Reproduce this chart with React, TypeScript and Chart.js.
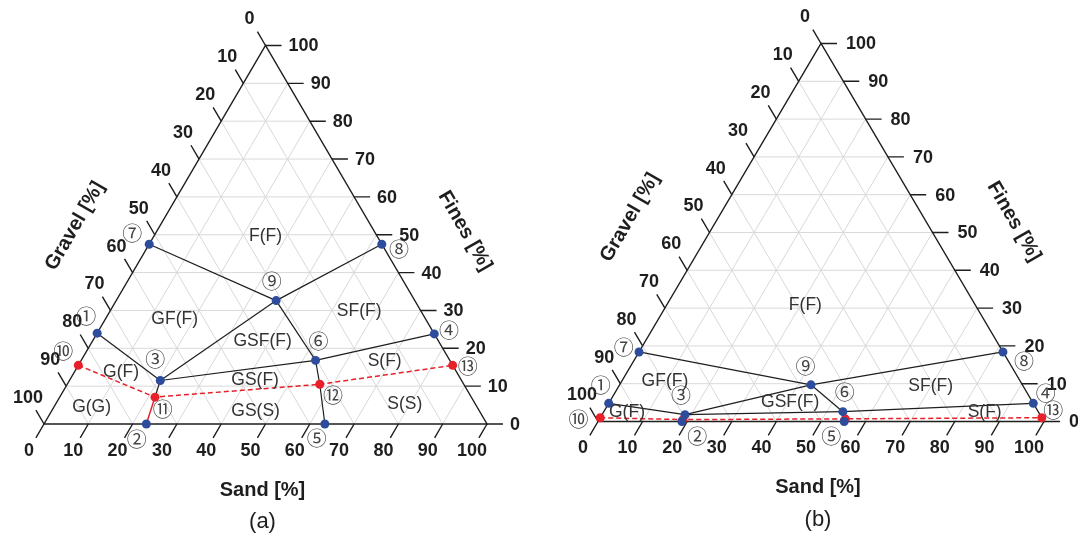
import React, { useEffect, useRef } from "react";
import { Chart, registerables } from "chart.js";
Chart.register(...registerables);

// ---- data (sand %, fines %; gravel = 100 - sand - fines) ----
const pointNames = ["①", "②", "③", "④", "⑤", "⑥", "⑦", "⑧", "⑨", "⑩", "⑪", "⑫", "⑬"];
const sandA = [0, 23.1, 20.5, 76.2, 63.4, 52.9, 0, 52.5, 36.1, 0, 21.5, 57.0, 84.5];
const finesA = [24, 0, 11.5, 23.8, 0, 16.8, 47.5, 47.5, 32.6, 15.5, 7.1, 10.5, 15.5];
const sandB = [0, 18.8, 18.6, 95.2, 55.2, 53.6, 0, 81.6, 42.9, 0, 18.8, 55.1, 99];
const finesB = [4.8, 0, 1.8, 4.8, 0, 2.6, 18.4, 18.4, 9.7, 1.0, 0.5, 0.7, 1.0];
const bluePoints = [1, 2, 3, 4, 5, 6, 7, 8, 9];
const redPoints = [10, 11, 12, 13];

// boundary links (point numbers)
const blackLinksA = [[7, 9], [8, 9], [9, 3], [1, 3], [3, 6], [6, 4], [9, 6], [6, 12], [12, 5], [3, 11]];
const redSolidLinksA = [[11, 2]];
const blackLinksB = [[7, 9], [9, 6], [3, 9], [9, 8], [1, 3], [3, 6], [6, 4], [3, 2], [6, 5]];
const redSolidLinksB: number[][] = [];
const redDashedPath = [10, 11, 12, 13];

// label anchors for circled numbers (sand %, fines %)
const markSandA = [-4.7, 23.0, 16.6, 79.1, 63.4, 51.0, -5.3, 57.1, 32.6, -5.3, 24.9, 61.5, 88.1];
const markFinesA = [28.5, -4.1, 17.0, 24.7, -3.7, 21.9, 50.4, 46.1, 37.6, 19.3, 3.8, 7.5, 15.1];
const markSandB = [-4.2, 24.3, 15.2, 96.7, 54.3, 51.5, -4.0, 87.6, 39.3, -4.7, NaN, NaN, 100.6];
const markFinesB = [9.6, -4.05, 6.8, 7.4, -4.0, 7.7, 19.6, 15.8, 14.5, 0.6, NaN, NaN, 3.0];

// region names and their anchors
const regionNamesA = ["F(F)", "GF(F)", "SF(F)", "GSF(F)", "G(F)", "S(F)", "GS(F)", "G(G)", "GS(S)", "S(S)"];
const regionSandA = [25.2, 15.7, 56.3, 38.4, 10.5, 68.6, 41.8, 8.5, 46.1, 78.8];
const regionFinesA = [49.6, 27.6, 29.7, 21.9, 13.8, 16.6, 11.7, 4.5, 3.35, 5.3];
const regionNamesB = ["F(F)", "GF(F)", "SF(F)", "GSF(F)", "G(F)", "S(F)"];
const regionSandB = [31.1, 9.65, 69.9, 40.5, 5.3, 85.4];
const regionFinesB = [30.8, 10.7, 9.4, 5.2, 2.4, 2.6];

const tickValues = [0, 10, 20, 30, 40, 50, 60, 70, 80, 90, 100];
const gridValues = [10, 20, 30, 40, 50, 60, 70, 80, 90];

const BLUE = "#2e4c9c";
const RED = "#e8202a";
const LINE = "#1e1e1e";
const FONT = "'Liberation Sans', Arial, sans-serif";

const tern = (s: number, f: number) => ({ x: s + f / 2, y: f });

type Panel = {
  xId: string; yId: string; sand: number[]; fines: number[];
  black: number[][]; redSolid: number[][];
  markSand: number[]; markFines: number[];
  regions: string[]; regionSand: number[]; regionFines: number[];
  letter: string; gravelTitle: [number, number]; finesTitle: [number, number]; fineLabelGap: number;
};

const panels: Panel[] = [
  {
    xId: "xa", yId: "ya", sand: sandA, fines: finesA, black: blackLinksA, redSolid: redSolidLinksA,
    markSand: markSandA, markFines: markFinesA, regions: regionNamesA, regionSand: regionSandA, regionFines: regionFinesA,
    letter: "(a)", gravelTitle: [31, -198], finesTitle: [-22, -193], fineLabelGap: 23,
  },
  {
    xId: "xb", yId: "yb", sand: sandB, fines: finesB, black: blackLinksB, redSolid: redSolidLinksB,
    markSand: markSandB, markFines: markFinesB, regions: regionNamesB, regionSand: regionSandB, regionFines: regionFinesB,
    letter: "(b)", gravelTitle: [32, -204], finesTitle: [-30, -200], fineLabelGap: 25,
  },
];

function buildDatasets() {
  const ds: any[] = [];
  panels.forEach((p) => {
    const pt = (n: number) => tern(p.sand[n - 1], p.fines[n - 1]);
    ds.push({
      type: "scatter", data: bluePoints.map(pt), xAxisID: p.xId, yAxisID: p.yId,
      pointRadius: 4.5, pointHoverRadius: 4.5, backgroundColor: BLUE, borderWidth: 0, order: 0,
    });
    ds.push({
      type: "scatter", data: redPoints.map(pt), xAxisID: p.xId, yAxisID: p.yId,
      pointRadius: 4.5, pointHoverRadius: 4.5, backgroundColor: RED, borderWidth: 0, order: 1,
    });
    ds.push({
      type: "scatter", data: redDashedPath.map(pt), xAxisID: p.xId, yAxisID: p.yId, showLine: true,
      pointRadius: 0, borderColor: RED, borderWidth: 1.5, borderDash: [5, 3], order: 2,
    });
    p.redSolid.forEach(([a, b]) =>
      ds.push({
        type: "scatter", data: [pt(a), pt(b)], xAxisID: p.xId, yAxisID: p.yId, showLine: true,
        pointRadius: 0, borderColor: RED, borderWidth: 1.5, order: 3,
      })
    );
    p.black.forEach(([a, b]) =>
      ds.push({
        type: "scatter", data: [pt(a), pt(b)], xAxisID: p.xId, yAxisID: p.yId, showLine: true,
        pointRadius: 0, borderColor: LINE, borderWidth: 1.2, order: 4,
      })
    );
  });
  return ds;
}

const ternaryPlugin = {
  id: "ternary",
  beforeDraw(chart: any) {
    const ctx = chart.ctx;
    ctx.save();
    ctx.fillStyle = "#ffffff";
    ctx.fillRect(0, 0, chart.width, chart.height);
    ctx.restore();
  },
  beforeDatasetsDraw(chart: any) {
    const ctx = chart.ctx;
    panels.forEach((p) => {
      const xs = chart.scales[p.xId], ys = chart.scales[p.yId];
      const P = (s: number, f: number) => [xs.getPixelForValue(s + f / 2), ys.getPixelForValue(f)];
      const seg = (a: number[], b: number[]) => { ctx.moveTo(a[0], a[1]); ctx.lineTo(b[0], b[1]); };
      ctx.save();
      // grid
      ctx.strokeStyle = "#d9d9d9";
      ctx.lineWidth = 1;
      ctx.beginPath();
      gridValues.forEach((k) => {
        seg(P(0, k), P(100 - k, k));
        seg(P(k, 0), P(k, 100 - k));
        seg(P(100 - k, 0), P(0, 100 - k));
      });
      ctx.stroke();
      // outline
      const L = P(0, 0), R = P(100, 0), T = P(0, 100);
      ctx.strokeStyle = LINE;
      ctx.lineWidth = 1.4;
      ctx.beginPath();
      ctx.moveTo(L[0], L[1]); ctx.lineTo(R[0], R[1]); ctx.lineTo(T[0], T[1]); ctx.closePath();
      ctx.stroke();
      // ticks
      const unit = (a: number[], b: number[]) => {
        const dx = b[0] - a[0], dy = b[1] - a[1]; const l = Math.hypot(dx, dy);
        return [dx / l, dy / l];
      };
      const sandDir = unit(T, L), gravDir = unit(R, T), len = 16;
      ctx.beginPath();
      tickValues.forEach((k) => {
        const a = P(k, 0); seg(a, [a[0] + sandDir[0] * len, a[1] + sandDir[1] * len]);
        const b = P(100 - k, k); seg(b, [b[0] + len, b[1]]);
        const c = P(0, 100 - k); seg(c, [c[0] + gravDir[0] * len, c[1] + gravDir[1] * len]);
      });
      ctx.stroke();
      ctx.restore();
    });
  },
  afterDatasetsDraw(chart: any) {
    const ctx = chart.ctx;
    panels.forEach((p) => {
      const xs = chart.scales[p.xId], ys = chart.scales[p.yId];
      const P = (s: number, f: number) => [xs.getPixelForValue(s + f / 2), ys.getPixelForValue(f)];
      ctx.save();
      // tick labels
      ctx.fillStyle = "#1e1e1e";
      ctx.font = `bold 18px ${FONT}`;
      ctx.textBaseline = "middle";
      tickValues.forEach((k) => {
        const a = P(k, 0);
        ctx.textAlign = "center";
        ctx.fillText(String(k), a[0] - 15, a[1] + 27);
        const c = P(0, 100 - k);
        ctx.fillText(String(k), c[0] - 16, c[1] - 26);
        const b = P(100 - k, k);
        ctx.textAlign = "left";
        ctx.fillText(String(k), b[0] + p.fineLabelGap, b[1] + 1);
      });
      // region names
      ctx.font = `17.5px ${FONT}`;
      ctx.fillStyle = "#333333";
      ctx.textAlign = "center";
      p.regions.forEach((name, i) => {
        const q = P(p.regionSand[i], p.regionFines[i]);
        ctx.fillText(name, q[0], q[1]);
      });
      // circled point numbers
      ctx.font = `20px 'Noto Sans CJK JP', 'DejaVu Sans', sans-serif`;
      ctx.fillStyle = "#444444";
      pointNames.forEach((name, i) => {
        if (isNaN(p.markSand[i])) return;
        const q = P(p.markSand[i], p.markFines[i]);
        ctx.fillText(name, q[0], q[1]);
      });
      // axis titles
      const L = P(0, 0), R = P(100, 0), M = P(50, 0);
      ctx.fillStyle = "#1e1e1e";
      ctx.font = `bold 20px ${FONT}`;
      ctx.fillText("Sand [%]", M[0] - 3, M[1] + 66);
      ctx.save();
      ctx.translate(L[0] + p.gravelTitle[0], L[1] + p.gravelTitle[1]);
      ctx.rotate(-Math.PI / 3);
      ctx.fillText("Gravel [%]", 0, 0);
      ctx.restore();
      ctx.save();
      ctx.translate(R[0] + p.finesTitle[0], R[1] + p.finesTitle[1]);
      ctx.rotate(Math.PI / 3);
      ctx.fillText("Fines [%]", 0, 0);
      ctx.restore();
      ctx.font = `22px ${FONT}`;
      ctx.fillText(p.letter, M[0] - 3, M[1] + 98);
      ctx.restore();
    });
  },
};

export default function App() {
  const ref = useRef<HTMLCanvasElement>(null);
  useEffect(() => {
    if (!ref.current) return;
    const chart = new Chart(ref.current, {
      type: "scatter",
      data: { datasets: buildDatasets() },
      options: {
        responsive: false,
        animation: false,
        devicePixelRatio: 1,
        layout: { padding: 0, autoPadding: false },
        plugins: { legend: { display: false }, tooltip: { enabled: false }, title: { display: false } },
        scales: {
          x: { display: false },
          y: { display: false },
          xa: { type: "linear", axis: "x", display: false, min: -44 / 4.43, max: (1078 - 44) / 4.43 },
          ya: { type: "linear", axis: "y", display: false, min: (424 - 538) / 3.785, max: 424 / 3.785 },
          xb: { type: "linear", axis: "x", display: false, min: -598 / 4.46, max: (1078 - 598) / 4.46 },
          yb: { type: "linear", axis: "y", display: false, min: (421.5 - 538) / 3.78, max: 421.5 / 3.78 },
        },
      } as any,
      plugins: [ternaryPlugin],
    });
    return () => chart.destroy();
  }, []);
  return (
    <div style={{ position: "absolute", left: 0, top: 0, width: 1078, height: 538, background: "#fff" }}>
      <canvas ref={ref} width={1078} height={538} style={{ display: "block" }} />
    </div>
  );
}
